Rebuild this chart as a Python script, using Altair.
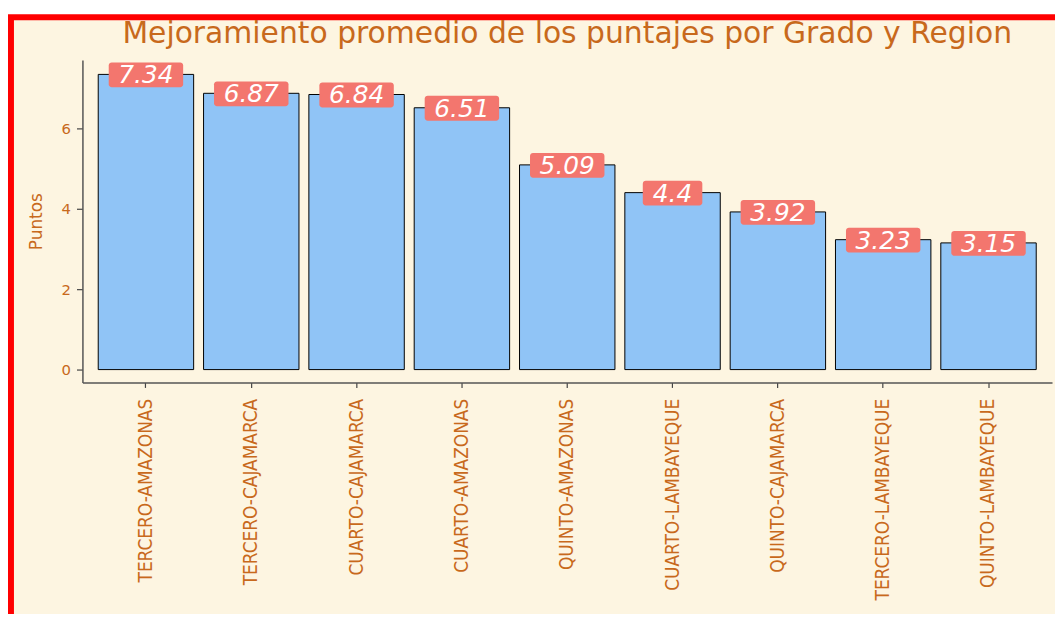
import altair as alt
import pandas as pd

categories = ["TERCERO-AMAZONAS", "TERCERO-CAJAMARCA", "CUARTO-CAJAMARCA",
              "CUARTO-AMAZONAS", "QUINTO-AMAZONAS", "CUARTO-LAMBAYEQUE",
              "QUINTO-CAJAMARCA", "TERCERO-LAMBAYEQUE", "QUINTO-LAMBAYEQUE"]
values = [7.34, 6.87, 6.84, 6.51, 5.09, 4.4, 3.92, 3.23, 3.15]
labels = ["7.34", "6.87", "6.84", "6.51", "5.09", "4.4", "3.92", "3.23", "3.15"]
y_ticks = [0, 2, 4, 6]
title_text = "Mejoramiento promedio de los puntajes por Grado y Region"

df = pd.DataFrame({"cat": categories, "val": values, "lab": labels})

FONT = "DejaVu Sans"
ORANGE = "#c8691c"
CREAM = "#fdf5e1"
SALMON = "#f3766e"
BLUE = "#90c4f6"

one = pd.DataFrame({"f": [0]})

frame = alt.Chart(one).mark_rect(
    fill=CREAM, stroke="#ff0000", strokeWidth=6
).encode(x=alt.value(-72), x2=alt.value(1300), y=alt.value(-43), y2=alt.value(900))

title = alt.Chart(one).mark_text(
    font=FONT, fontSize=30, color=ORANGE, align="center", baseline="middle"
).encode(x=alt.value(488.5), y=alt.value(-26), text=alt.value(title_text))

x_enc = alt.X(
    "cat:N", sort=categories, title=None,
    scale=alt.Scale(paddingInner=0.094, paddingOuter=0.15),
    axis=alt.Axis(labelAngle=270, labelAlign="right", labelBaseline="middle",
                  labelFont="DejaVu Sans Condensed", labelFontSize=19,
                  labelColor=ORANGE, labelPadding=11, labelLimit=0,
                  tickSize=5, tickColor="#444444", tickWidth=1.2,
                  domainColor="#555555", domainWidth=1.5, zindex=1),
)
y_enc = alt.Y(
    "val:Q",
    scale=alt.Scale(domain=[-0.32, 7.7], nice=False, zero=False),
    axis=alt.Axis(values=y_ticks, title="Puntos", grid=False,
                  labelFont=FONT, labelFontSize=15, labelColor=ORANGE,
                  labelPadding=6, tickSize=6, tickColor="#444444", tickWidth=1.2,
                  domainColor="#555555", domainWidth=1.5,
                  titleFont=FONT, titleFontSize=17, titleFontWeight="normal",
                  titleColor=ORANGE, titlePadding=16, zindex=1),
)

bars = alt.Chart(df).mark_bar(fill=BLUE, stroke="black", strokeWidth=1).encode(
    x=x_enc, y=y_enc, y2=alt.datum(0)
)

boxes = alt.Chart(df).transform_calculate(
    w="length(datum.lab) * 15 + 15"
).mark_bar(fill=SALMON, cornerRadius=3, yOffset=-12, y2Offset=13).encode(
    x=alt.X("cat:N", sort=categories),
    y="val:Q", y2="val:Q",
    size=alt.Size("w:Q", scale=None),
)

texts = alt.Chart(df).mark_text(
    color="white", font=FONT, fontSize=25, fontStyle="italic",
    baseline="middle", align="center", dy=1
).encode(x=alt.X("cat:N", sort=categories), y="val:Q", text="lab:N")

chart = alt.layer(frame, title, bars, boxes, texts).properties(
    width=977, height=325,
    autosize=alt.AutoSizeParams(type="none"),
    padding={"left": 75, "top": 50, "right": 3, "bottom": 231},
    background="white",
).configure_view(stroke=None)

chart.save("out.html", embed_options={"renderer": "svg", "actions": False})
